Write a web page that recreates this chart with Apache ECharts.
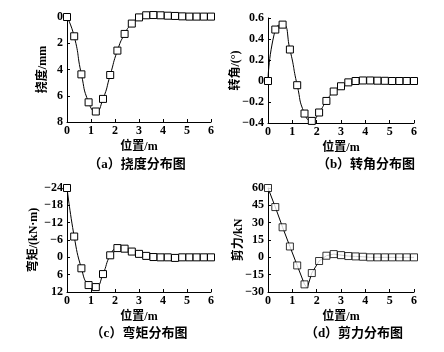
<!DOCTYPE html>
<html>
<head>
<meta charset="utf-8">
<script src="https://cdn.jsdelivr.net/npm/echarts@6/dist/echarts.min.js"></script>
<style>
  html, body { margin: 0; padding: 0; background: #fff; }
  #chart { width: 444px; height: 352px; }
</style>
</head>
<body>
<div id="chart"></div>
<script>
var positions = [0, 0.3, 0.6, 0.9, 1.2, 1.5, 1.8, 2.1, 2.4, 2.7, 3.0, 3.3, 3.6, 3.9, 4.2, 4.5, 4.8, 5.1, 5.4, 5.7, 6.0];
var deflection = [0, 1.47, 4.37, 6.5, 7.2, 6.24, 4.42, 2.56, 1.29, 0.5, 0.03, -0.13, -0.15, -0.13, -0.1, -0.08, -0.05, -0.03, -0.03, -0.03, -0.03];
var rotation = [0, 0.49, 0.537, 0.3, -0.04, -0.31, -0.38, -0.3, -0.19, -0.1, -0.05, -0.013, 0, 0.005, 0.005, 0.003, 0.002, 0, 0, 0, 0];
var moment = [-24, -7.2, 3.8, 9.6, 10.3, 5.8, -0.7, -3.2, -3.0, -2.0, -1.2, -0.5, -0.1, 0, 0, 0.2, 0, 0, 0, 0, 0];
var shear = [60, 43.5, 26, 9.4, -7, -23.4, -13.6, -3.2, 1.4, 2.8, 1.9, 1.1, 0.8, 0.5, 0, 0, 0, 0, 0, 0, 0];
var shearPeak = [1.61, -26.5];

var yNames = ["挠度/mm", "转角/(°)", "弯矩/(kN·m)", "剪力/kN"];
var captions = ["（a）挠度分布图", "（b）转角分布图", "（c）弯矩分布图", "（d）剪力分布图"];
var xName = "位置/m";

var serif = '"Liberation Serif", "Noto Sans CJK SC", serif';

function pairs(ys) {
  return positions.map(function (x, i) { return [x, ys[i]]; });
}

var grids = [
  { left: 67, top: 17, width: 144, height: 105 },
  { left: 268, top: 18, width: 146, height: 105 },
  { left: 67, top: 188, width: 144, height: 104 },
  { left: 268, top: 188, width: 146, height: 104 }
];

var yRanges = [
  { min: 0, max: 8, interval: 2, inverse: true, gap: 18 },
  { min: -0.4, max: 0.6, interval: 0.2, inverse: false, gap: 26 },
  { min: -24, max: 12, interval: 6, inverse: true, gap: 27 },
  { min: -30, max: 60, interval: 15, inverse: false, gap: 23 }
];

var axisLine = { show: true, onZero: false, lineStyle: { color: "#000", width: 1 } };
var axisTick = { show: true, inside: true, length: 3, lineStyle: { color: "#000" } };
var nameStyle = { fontFamily: serif, fontSize: 12, fontWeight: "bold", color: "#000" };

var xAxes = grids.map(function (g, i) {
  return {
    gridIndex: i,
    type: "value",
    min: 0,
    max: 6,
    interval: 1,
    position: "bottom",
    name: xName,
    nameLocation: "middle",
    nameGap: 19,
    nameMoveOverlap: false,
    nameTextStyle: nameStyle,
    axisLine: axisLine,
    axisTick: axisTick,
    axisLabel: { fontFamily: serif, fontSize: 12, fontWeight: "bold", color: "#000", margin: 3 },
    splitLine: { show: false }
  };
});

var yAxes = yRanges.map(function (r, i) {
  return {
    gridIndex: i,
    type: "value",
    min: r.min,
    max: r.max,
    interval: r.interval,
    inverse: r.inverse,
    name: yNames[i],
    nameLocation: "middle",
    nameRotate: 90,
    nameGap: r.gap,
    nameMoveOverlap: false,
    nameTextStyle: nameStyle,
    axisLine: axisLine,
    axisTick: axisTick,
    axisLabel: {
      fontFamily: serif, fontSize: 12, fontWeight: "bold", color: "#000", margin: 4,
      formatter: function (v) { return String(Math.round(v * 10) / 10).replace("-", "−"); }
    },
    splitLine: { show: false }
  };
});

var markerStyle = { color: "#fff", borderColor: "#000", borderWidth: 1 };

function markedLine(idx, ys, smooth) {
  return {
    type: "line",
    xAxisIndex: idx,
    yAxisIndex: idx,
    data: pairs(ys),
    smooth: smooth,
    clip: false,
    symbol: "rect",
    symbolSize: 7,
    showAllSymbol: true,
    itemStyle: markerStyle,
    lineStyle: { color: "#000", width: 1 },
    z: 3
  };
}

var shearLine = pairs(shear);
shearLine.splice(6, 0, shearPeak);

var series = [
  markedLine(0, deflection, 0.6),
  markedLine(1, rotation, 0.6),
  markedLine(2, moment, 0.5),
  {
    type: "line",
    xAxisIndex: 3,
    yAxisIndex: 3,
    data: shearLine,
    clip: false,
    symbol: "none",
    lineStyle: { color: "#000", width: 1 },
    z: 2
  },
  {
    type: "scatter",
    xAxisIndex: 3,
    yAxisIndex: 3,
    data: pairs(shear),
    clip: false,
    symbol: "rect",
    symbolSize: 7,
    itemStyle: markerStyle,
    z: 3
  }
];

var captionPos = [[137, 165], [366, 165], [139, 334], [354, 334]];
var graphics = captions.map(function (t, i) {
  return {
    type: "text",
    x: captionPos[i][0],
    y: captionPos[i][1],
    style: {
      text: t,
      fill: "#000",
      font: "bold 13px " + serif,
      textAlign: "center",
      textVerticalAlign: "middle"
    }
  };
});

var chart = echarts.init(document.getElementById("chart"), null, { renderer: "canvas" });
chart.setOption({
  animation: false,
  backgroundColor: "#fff",
  grid: grids,
  xAxis: xAxes,
  yAxis: yAxes,
  series: series,
  graphic: graphics
});
</script>
</body>
</html>
